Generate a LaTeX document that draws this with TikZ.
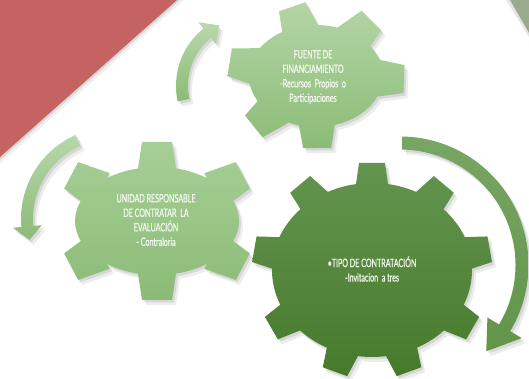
\documentclass[tikz,border=0pt]{standalone}
\usepackage{fontspec}
\newfontfamily\agency[FakeStretch=0.62,FakeBold=0.5]{Lato}
\definecolor{redc}{HTML}{C56262}
\definecolor{greyg}{HTML}{9BAA8C}
\definecolor{lgA}{HTML}{A6CF95}
\definecolor{lgB}{HTML}{8CBB77}
\definecolor{dgA}{HTML}{649550}
\definecolor{dgB}{HTML}{467A2B}
\definecolor{txt}{HTML}{F5F9F1}
\pgfmathdeclarefunction{erad}{3}{\begingroup\pgfmathparse{#2*#3/sqrt((#3*cos(#1))^2+(#2*sin(#1))^2)}\pgfmathsmuggle\pgfmathresult\endgroup}
% gear: cx cy rx ry angles h w wt shadeopts
\newcommand{\mygearpath}[8]{%
  (#1,#2) ellipse [x radius=#3, y radius=#4]
  \foreach \t in {#5} {
    ({#1+(erad(\t,#3,#4)-8)*cos(\t)+#7*sin(\t)},{#2+(erad(\t,#3,#4)-8)*sin(\t)-#7*cos(\t)})
    -- ({#1+(erad(\t,#3,#4)+#6)*cos(\t)+#8*sin(\t)},{#2+(erad(\t,#3,#4)+#6)*sin(\t)-#8*cos(\t)})
    -- ({#1+(erad(\t,#3,#4)+#6)*cos(\t)-#8*sin(\t)},{#2+(erad(\t,#3,#4)+#6)*sin(\t)+#8*cos(\t)})
    -- ({#1+(erad(\t,#3,#4)-8)*cos(\t)-#7*sin(\t)},{#2+(erad(\t,#3,#4)-8)*sin(\t)+#7*cos(\t)})
    -- cycle
  }}
\newcommand{\mygear}[9]{%
  \fill[black,opacity=0.07,shift={(4,-5)}] \mygearpath{#1}{#2}{#3}{#4}{#5}{#6}{#7}{#8};
  \fill[black,opacity=0.09,shift={(2,-2.5)}] \mygearpath{#1}{#2}{#3}{#4}{#5}{#6}{#7}{#8};
  \shade[#9] \mygearpath{#1}{#2}{#3}{#4}{#5}{#6}{#7}{#8};}
% arrow: cx cy r a1 a2 hw hhw tipangle shadeopts
\newcommand{\myarrowpath}[8]{%
  (#4:{#3+#6}) arc[start angle=#4,end angle=#5,radius={#3+#6}] -- (#5:{#3+#7}) -- (#8:#3)
  -- (#5:{#3-#7}) -- (#5:{#3-#6}) arc[start angle=#5,end angle=#4,radius={#3-#6}] -- cycle}
\newcommand{\myarrow}[9]{%
  \begin{scope}[shift={(#1,#2)}]
  \fill[black,opacity=0.07,shift={(4,-5)}] \myarrowpath{#1}{#2}{#3}{#4}{#5}{#6}{#7}{#8};
  \fill[black,opacity=0.09,shift={(2,-2.5)}] \myarrowpath{#1}{#2}{#3}{#4}{#5}{#6}{#7}{#8};
  \shade[#9] \myarrowpath{#1}{#2}{#3}{#4}{#5}{#6}{#7}{#8};
  \end{scope}}
\tikzset{
  gtext/.style={text=txt, align=center, inner sep=0pt,
    font=\agency\fontsize{11.5}{14.5}\selectfont},
}
\begin{document}
\begin{tikzpicture}[x=1pt,y=1pt]
\path[use as bounding box] (0,0) rectangle (529,379);
\clip (0,0) rectangle (529,379);
\fill[white] (0,0) rectangle (529,379);
% corner triangles
\fill[black,opacity=0.06] (0,379) -- (184,379) -- (0,215) -- cycle;
\fill[black,opacity=0.10] (0,379) -- (180,379) -- (0,219) -- cycle;
\fill[redc] (0,379) -- (177,379) -- (0,222) -- cycle;
\fill[black,opacity=0.10] (506,379) -- (529,379) -- (529,342) -- cycle;
\fill[greyg] (510,379) -- (529,379) -- (529,346) -- cycle;
% arrows
\myarrow{250}{293}{68}{192}{129}{6}{14}{117}{top color=lgA!80!white, bottom color=lgB}
\myarrow{113}{160}{86}{114}{185}{6}{14.5}{194}{top color=lgA!80!white, bottom color=lgB}
\myarrow{400}{114}{122}{89}{-31}{6.5}{20}{-45}{top color=dgA!70!lgA, bottom color=dgB!60!lgB}
% gears
\mygear{316}{303}{67}{51}{109,45,-2,-89,-141,171}{21}{19}{14}{top color=lgA!85!white, bottom color=lgB}
\mygear{157}{158}{82}{54}{90,28,-28,-90,-152,152}{25}{20}{15}{top color=lgA, bottom color=lgB}
\mygear{372}{109}{100}{87}{90,50,10,-30,-70,-110,-150,170,130}{20}{17}{13}{top color=dgA, bottom color=dgB}
% texts
\node[gtext] (t1) at (313,302) {FUENTE DE\\FINANCIAMIENTO\\-Recursos~ Propios~ o\\Participaciones};
\node[gtext] (t2) at (156,159) {UNIDAD RESPONSABLE\\DE CONTRATAR~ LA\\EVALUACIÓN\\- Contraloria};
\node[gtext] (t3) at (372,110) {•TIPO DE CONTRATACIÓN\\-Invitacion~ a tres};
\end{tikzpicture}
\end{document}
